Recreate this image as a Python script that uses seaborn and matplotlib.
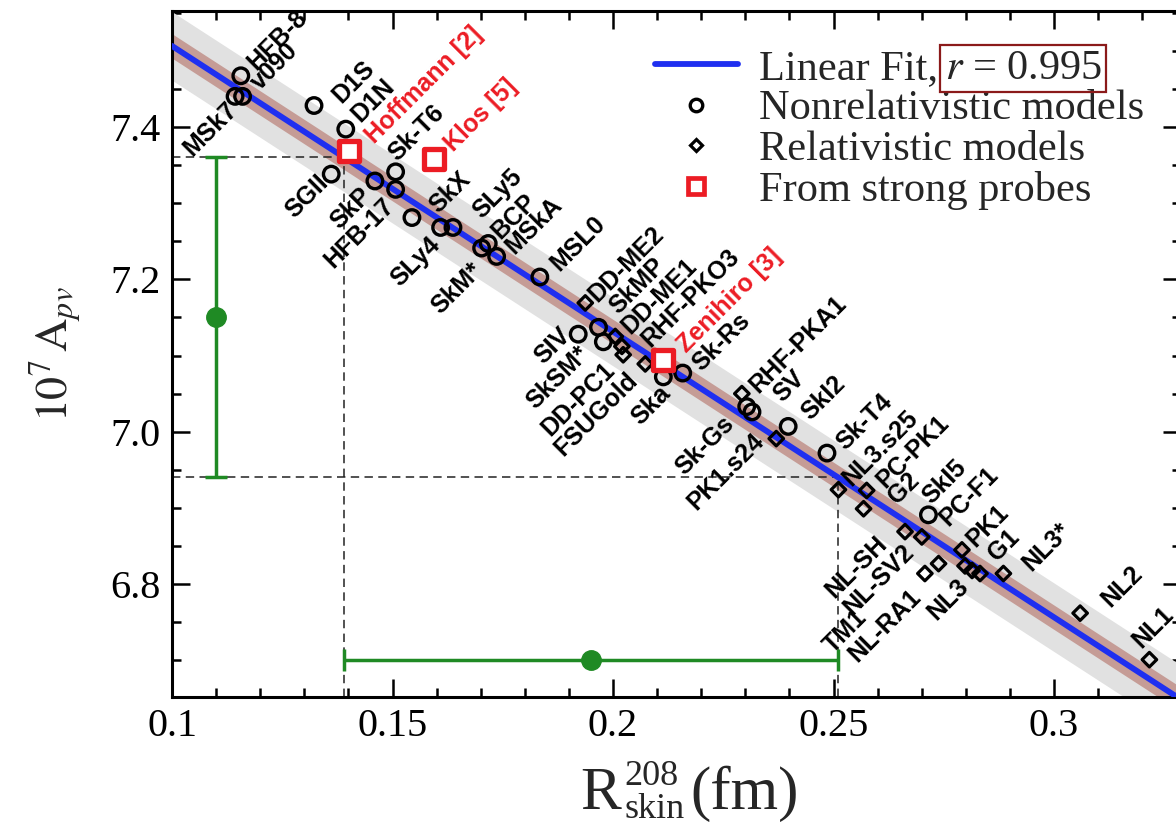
import numpy as np
import pandas as pd
import matplotlib
matplotlib.use("Agg")
import matplotlib.pyplot as plt
import seaborn as sns
from matplotlib.ticker import MultipleLocator, FuncFormatter
from matplotlib.lines import Line2D

# ---------------- data ----------------
nonrel_models = ['HFB-8', 'v090', 'MSk7', 'D1S', 'D1N', 'Sk-T6', 'SGII', 'SkP', 'HFB-17',
                 'SkX', 'SLy4', 'SLy5', 'BCP', 'SkM*', 'MSkA', 'MSL0', 'SIV', 'SkMP',
                 'SkSM*', 'Ska', 'Sk-Rs', 'Sk-Gs', 'SV', 'SkI2', 'Sk-T4', 'SkI5']
nonrel_rskin = [0.1156, 0.1160, 0.1143, 0.1322, 0.1394, 0.1507, 0.1361, 0.1460, 0.1507,
                0.1544, 0.1609, 0.1637, 0.1717, 0.1702, 0.1736, 0.1834, 0.1921, 0.1967,
                0.1978, 0.2114, 0.2158, 0.2303, 0.2315, 0.2397, 0.2485, 0.2715]
nonrel_apv = [7.467, 7.440, 7.440, 7.428, 7.397, 7.341, 7.338, 7.329, 7.318,
              7.281, 7.268, 7.268, 7.247, 7.241, 7.230, 7.203, 7.128, 7.137,
              7.118, 7.072, 7.077, 7.033, 7.026, 7.007, 6.972, 6.891]

rel_models = ['DD-ME2', 'DD-ME1', 'RHF-PKO3', 'DD-PC1', 'FSUGold', 'RHF-PKA1', 'PK1.s24',
              'NL3.s25', 'PC-PK1', 'G2', 'NL-SH', 'PC-F1', 'PK1', 'NL-SV2', 'TM1',
              'NL-RA1', 'NL3', 'G1', 'NL3*', 'NL2', 'NL1']
rel_rskin = [0.1937, 0.2005, 0.2020, 0.2023, 0.2073, 0.2292, 0.2370,
             0.2511, 0.2575, 0.2568, 0.2662, 0.2700, 0.2791, 0.2738, 0.2707,
             0.2798, 0.2814, 0.2832, 0.2885, 0.3059, 0.3216]
rel_apv = [7.169, 7.125, 7.112, 7.101, 7.089, 7.050, 6.991,
           6.924, 6.923, 6.899, 6.869, 6.862, 6.845, 6.827, 6.814,
           6.824, 6.818, 6.814, 6.814, 6.762, 6.701]

probe_names = ['Hoffmann [2]', 'Klos [5]', 'Zenihiro [3]']
probe_rskin = [0.1401, 0.1593, 0.2114]
probe_apv = [7.368, 7.358, 7.094]

apv_value = 7.15          # central A_pv (x 10^7)
apv_error = 0.21
r_coefficient = 0.995
band_inner = 0.016        # half-width of brown band
band_outer = 0.045        # half-width of grey band

xlabel_parts = ['R', '208', 'skin', '(fm)']
ylabel_text = r'$10^{7}\,\mathrm{A}_{pv}$'
legend_labels = ['Linear Fit,', 'Nonrelativistic models', 'Relativistic models',
                 'From strong probes']

# ---------------- layout / style ----------------
PX = 0.72  # points per pixel at dpi 100
label_layout = {  # name: (dx px, dy px (up), side)
    'HFB-8': (10.7, 9.3, 'R'), 'v090': (12.3, 10, 'R'), 'MSk7': (-1.7, -10, 'L'),
    'D1S': (22.7, 6, 'R'), 'D1N': (9.3, 11, 'R'), 'Sk-T6': (-3, 15, 'R'),
    'SGII': (-7, -5, 'L'), 'SkP': (-7.7, -10.7, 'L'), 'HFB-17': (-5.7, -12.4, 'L'),
    'SkX': (21.6, 9, 'R'), 'SLy4': (-4, -14, 'L'), 'SLy5': (24, 12.7, 'R'),
    'BCP': (6.7, 8.3, 'R'), 'SkM*': (-3.4, -18.4, 'L'), 'MSkA': (13.3, 6.7, 'R'),
    'MSL0': (15, 10, 'R'), 'SIV': (-11.6, 2.3, 'L'), 'SkMP': (15, 17.3, 'R'),
    'SkSM*': (-18.3, -8.3, 'L'), 'Ska': (3.4, -13.3, 'L'), 'Sk-Rs': (14, 6, 'R'),
    'Sk-Gs': (-16.7, -13.3, 'L'), 'SV': (25.3, 13.7, 'R'), 'SkI2': (16.7, 10.7, 'R'),
    'Sk-T4': (13.3, 6.6, 'R'), 'SkI5': (-1.6, 15, 'R'),
    'DD-ME2': (6.7, 5, 'R'), 'DD-ME1': (10, 6.7, 'R'), 'RHF-PKO3': (23.3, 3.4, 'R'),
    'DD-PC1': (-11.6, -11.7, 'L'), 'FSUGold': (-11.7, -12.7, 'L'),
    'RHF-PKA1': (11.6, 5, 'R'), 'PK1.s24': (-16, 1.6, 'L'), 'NL3.s25': (8.4, 7.6, 'R'),
    'PC-PK1': (13.3, 6.7, 'R'), 'G2': (28.4, 8.3, 'R'), 'NL-SH': (-22, -8.3, 'L'),
    'PC-F1': (21.6, 15, 'R'), 'PK1': (8.3, 6.7, 'R'), 'NL-SV2': (-28.3, 15.3, 'L'),
    'TM1': (-62, -39.7, 'L'), 'NL-RA1': (-48, -27, 'L'), 'NL3': (-7, -12, 'L'),
    'G1': (11.7, 16.3, 'R'), 'NL3*': (23.4, 6.6, 'R'), 'NL2': (25, 10, 'R'),
    'NL1': (-13.3, 16, 'R'),
    'Hoffmann [2]': (21, 11.7, 'R'), 'Klos [5]': (15, 11, 'R'), 'Zenihiro [3]': (18.4, 11.7, 'R'),
}

sns.set_theme(style="ticks")
plt.rcParams.update({
    "font.family": ["Liberation Serif", "DejaVu Serif"],
    "mathtext.fontset": "stix",
    "axes.linewidth": 2.2,
    "xtick.direction": "in", "ytick.direction": "in",
    "xtick.top": True, "ytick.right": True,
    "xtick.major.size": 13, "ytick.major.size": 13,
    "xtick.minor.size": 6.5, "ytick.minor.size": 6.5,
    "xtick.major.width": 1.8, "ytick.major.width": 1.8,
    "xtick.minor.width": 1.8, "ytick.minor.width": 1.8,
    "xtick.color": "black", "ytick.color": "black",
    "axes.edgecolor": "black",
})

GREEN = '#1f8a24'
BLUE = '#1f2ff0'
RED = '#ec1c24'

W, H = 1176, 824
fig = plt.figure(figsize=(W / 100, H / 100), dpi=100)
fig.patch.set_facecolor('white')
ax = fig.add_axes([172 / W, 1 - 697 / H, (1180.7 - 172) / W, (697 - 11) / H])
ax.set_facecolor('white')
xlim = (0.1, 0.3287)
ylim = (6.652, 7.552)
ax.set_xlim(*xlim)
ax.set_ylim(*ylim)

# ---------------- linear fit ----------------
all_x = np.array(nonrel_rskin + rel_rskin)
all_y = np.array(nonrel_apv + rel_apv)
slope, intercept = np.polyfit(all_x, all_y, 1)
grid = np.linspace(xlim[0], xlim[1], 200)
fit = intercept + slope * grid
ax.fill_between(grid, fit - band_outer, fit + band_outer, color='#e1e1e1', lw=0, zorder=1)
ax.fill_between(grid, fit - band_inner, fit + band_inner, color='#c59c96', lw=0, zorder=2)
fit_df = pd.DataFrame({'x': grid, 'y': fit})
sns.lineplot(data=fit_df, x='x', y='y', color=BLUE, lw=4.2, ax=ax, zorder=3)

# ---------------- dashed projection lines ----------------
apv_lo, apv_hi = apv_value - apv_error, apv_value + apv_error
rs_lo = (apv_hi - intercept) / slope
rs_hi = (apv_lo - intercept) / slope
rs_mid = (apv_value - intercept) / slope
dash_kw = dict(color='#222222', lw=1.1, ls=(0, (5.5, 3.5)), zorder=2.5)
ax.plot([xlim[0], rs_lo], [apv_hi, apv_hi], **dash_kw)
ax.plot([rs_lo, rs_lo], [ylim[0], apv_hi], **dash_kw)
ax.plot([xlim[0], rs_hi], [apv_lo, apv_lo], **dash_kw)
ax.plot([rs_hi, rs_hi], [ylim[0], apv_lo], **dash_kw)

# ---------------- green error bars ----------------
apv_bar_level = 0.11
rskin_bar_level = 6.70
ax.errorbar([apv_bar_level], [apv_value], yerr=[apv_error], fmt='o', color=GREEN,
            ms=14, elinewidth=2.5, capsize=8, capthick=2.5, zorder=4)
ax.errorbar([rs_mid], [rskin_bar_level], xerr=[[rs_mid - rs_lo], [rs_hi - rs_mid]],
            fmt='o', color=GREEN, ms=14, elinewidth=2.5, capsize=8, capthick=2.5, zorder=4)

# ---------------- model points ----------------
sns.scatterplot(x=nonrel_rskin, y=nonrel_apv, marker='o', s=125, facecolor='none',
                edgecolor='black', linewidth=2.4, ax=ax, zorder=5)
sns.scatterplot(x=rel_rskin, y=rel_apv, marker='D', s=55, facecolor='none',
                edgecolor='black', linewidth=2.3, ax=ax, zorder=5)
sns.scatterplot(x=probe_rskin, y=probe_apv, marker='s', s=200, facecolor='white',
                edgecolor=RED, linewidth=3.8, ax=ax, zorder=6)

# ---------------- labels ----------------
def put_label(name, x, y, color):
    dx, dy, side = label_layout[name]
    ax.annotate(name, xy=(x, y), xytext=(dx * PX, dy * PX), textcoords='offset points',
                rotation=45, rotation_mode='anchor',
                ha='left' if side == 'R' else 'right', va='center',
                fontsize=18, fontweight='bold', color=color,
                family=['Liberation Sans', 'DejaVu Sans'], zorder=7)

for n, x, y in zip(nonrel_models, nonrel_rskin, nonrel_apv):
    put_label(n, x, y, 'black')
for n, x, y in zip(rel_models, rel_rskin, rel_apv):
    put_label(n, x, y, 'black')
for n, x, y in zip(probe_names, probe_rskin, probe_apv):
    put_label(n, x, y, RED)

# ---------------- axes cosmetics ----------------
ax.xaxis.set_major_locator(MultipleLocator(0.05))
ax.xaxis.set_minor_locator(MultipleLocator(0.01))
ax.yaxis.set_major_locator(MultipleLocator(0.2))
ax.yaxis.set_minor_locator(MultipleLocator(0.05))
ax.xaxis.set_major_formatter(FuncFormatter(lambda v, _: f'{v:g}'))
ax.yaxis.set_major_formatter(FuncFormatter(lambda v, _: f'{v:.1f}'))
ax.tick_params(axis='both', which='major', labelsize=29, pad=8)
ax.set_xlabel('')
ax.set_ylabel(ylabel_text, fontsize=33)
ax.yaxis.set_label_coords(-0.087, 0.5)
for s in ax.spines.values():
    s.set_linewidth(2.2)

# x-axis title built from pieces (compact super/subscript like the reference)
big, small = 44, 26
fig.text(580 / W, 1 - 809 / H, xlabel_parts[0], fontsize=big, va='baseline', ha='left')
fig.text(624 / W, 1 - 785 / H, xlabel_parts[1], fontsize=small, va='baseline', ha='left')
fig.text(624 / W, 1 - 818 / H, xlabel_parts[2], fontsize=small, va='baseline', ha='left')
fig.text(690 / W, 1 - 809 / H, xlabel_parts[3], fontsize=big, va='baseline', ha='left')

# ---------------- legend ----------------
handles = [
    Line2D([], [], color=BLUE, lw=4.2),
    Line2D([], [], ls='', marker='o', mfc='none', mec='black', mew=2.4, ms=9),
    Line2D([], [], ls='', marker='D', mfc='none', mec='black', mew=2.3, ms=6.5),
    Line2D([], [], ls='', marker='s', mfc='white', mec=RED, mew=3.4, ms=11),
]
leg = ax.legend(handles, legend_labels, loc='upper left',
                bbox_to_anchor=(655 / W, 1 - 49 / H), bbox_transform=fig.transFigure,
                frameon=False, fontsize=30.5, handlelength=1.95, handletextpad=0.5,
                labelspacing=0.05, borderpad=0, borderaxespad=0)
ax.annotate(r'$r$ = %.3f' % r_coefficient, xy=(1, 0.5), xycoords=leg.get_texts()[0],
            xytext=(5, 0), textcoords='offset points', ha='left', va='center',
            fontsize=30.5, bbox=dict(boxstyle='square,pad=0.1', fc='none',
                                      ec='#8b1a1a', lw=1.6), zorder=8)

fig.savefig('out.png', dpi=100, facecolor='white')
